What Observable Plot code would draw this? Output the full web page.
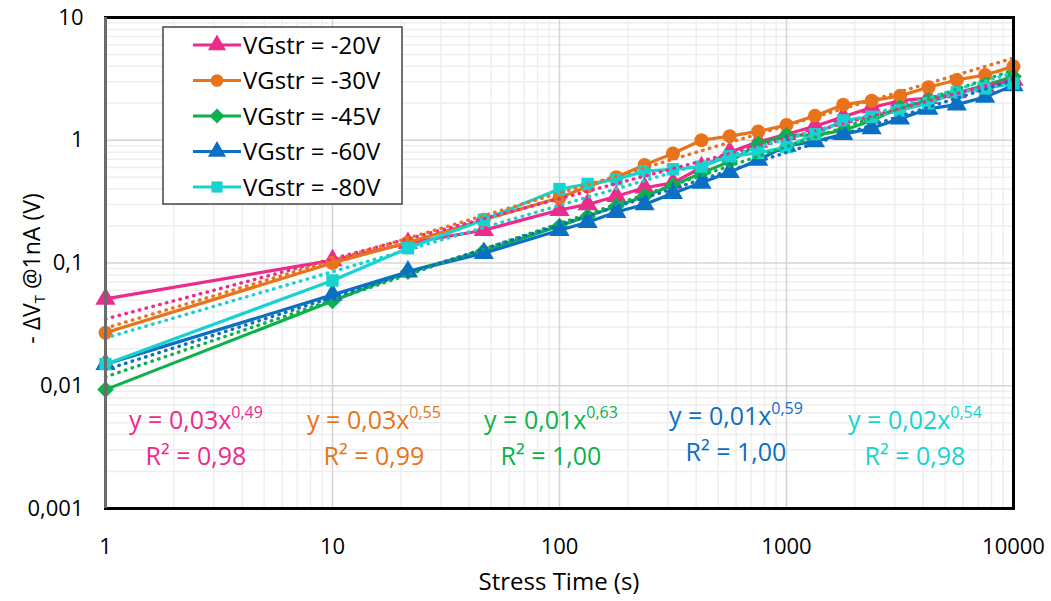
<!DOCTYPE html>
<html>
<head>
<meta charset="utf-8">
<script src="https://cdn.jsdelivr.net/npm/d3@7"></script>
<script src="https://cdn.jsdelivr.net/npm/@observablehq/plot@0.6"></script>
<style>
  body { margin: 0; background: #fff; }
  #chart svg { display: block; font-family: "Open Sans", sans-serif; }
</style>
</head>
<body>
<div id="chart"></div>
<script>
// ---------- data ----------
const stressTimes = [1, 10, 21.5, 46.4, 100, 133, 178, 237, 316, 422, 562, 750, 1000, 1334, 1778, 2371, 3162, 4217, 5623, 7499, 10000];

const seriesNames = ["VGstr = -20V", "VGstr = -30V", "VGstr = -45V", "VGstr = -60V", "VGstr = -80V"];
const seriesColors = ["#EC2B8C", "#E8731A", "#0DB14B", "#0B6FC3", "#17D3D0"];
const seriesSymbols = ["triangle", "circle", "diamond2", "triangle", "square"];
const seriesRadius = [7.5, 7, 7.5, 7.5, 7];

const dv20 = [0.051, 0.105, 0.145, 0.185, 0.27, 0.30, 0.35, 0.41, 0.45, 0.60, 0.80, 0.97, 1.12, 1.3, 1.55, 1.85, 2.1, 2.2, 2.45, 2.75, 3.1];
const dv30 = [0.027, 0.10, 0.147, 0.225, 0.34, 0.42, 0.50, 0.63, 0.78, 1.0, 1.08, 1.18, 1.33, 1.58, 1.95, 2.1, 2.3, 2.7, 3.1, 3.4, 4.0];
const dv45 = [0.0093, 0.049, 0.085, 0.125, 0.20, 0.24, 0.29, 0.35, 0.43, 0.54, 0.67, 0.93, 1.1, 1.1, 1.2, 1.45, 1.85, 2.1, 2.4, 2.8, 3.3];
const dv60 = [0.015, 0.055, 0.085, 0.12, 0.185, 0.215, 0.26, 0.30, 0.37, 0.45, 0.55, 0.69, 0.9, 0.98, 1.12, 1.25, 1.5, 1.8, 1.95, 2.25, 2.8];
const dv80 = [0.015, 0.072, 0.132, 0.225, 0.40, 0.44, 0.48, 0.56, 0.58, 0.61, 0.74, 0.79, 0.88, 1.12, 1.45, 1.55, 1.75, 2.0, 2.45, 2.65, 2.9];
const seriesValues = [dv20, dv30, dv45, dv60, dv80];

// power-law trendline coefficients (y = a * x^b)
const trendA = [0.035, 0.0295, 0.0118, 0.0135, 0.0245];
const trendB = [0.49, 0.55, 0.625, 0.59, 0.54];

// trendline labels
const eqMain = ["y = 0,03x", "y = 0,03x", "y = 0,01x", "y = 0,01x", "y = 0,02x"];
const eqExp = ["0,49", "0,55", "0,63", "0,59", "0,54"];
const r2Text = ["R² = 0,98", "R² = 0,99", "R² = 1,00", "R² = 1,00", "R² = 0,98"];

const xTicks = [1, 10, 100, 1000, 10000];
const yTicks = [0.001, 0.01, 0.1, 1, 10];
const xTitle = "Stress Time (s)";

// ---------- build ----------
const W = 1051, H = 601;
const mL = 105, mR = 38, mT = 17, mB = 93;

const minorX = [];
for (const d of xTicks.slice(0, -1)) for (let k = 2; k <= 9; k++) minorX.push(d * k);
const minorY = [];
for (const d of yTicks.slice(0, -1)) for (let k = 2; k <= 9; k++) minorY.push(d * k);

const marks = [
  Plot.ruleX(minorX, {stroke: "#eeeeee", strokeWidth: 1.5}),
  Plot.ruleY(minorY, {stroke: "#eeeeee", strokeWidth: 1.5}),
  Plot.ruleX(xTicks, {stroke: "#d4d4d4", strokeWidth: 1.5}),
  Plot.ruleY(yTicks, {stroke: "#d4d4d4", strokeWidth: 1.5}),
];

seriesNames.forEach((name, i) => {
  const rows = stressTimes.map((t, j) => ({t, v: seriesValues[i][j]}));
  marks.push(Plot.line(rows, {x: "t", y: "v", stroke: seriesColors[i], strokeWidth: 3.2}));
  marks.push(Plot.dot(rows, {x: "t", y: "v", fill: seriesColors[i], stroke: "none", symbol: seriesSymbols[i], r: seriesRadius[i]}));
});

seriesNames.forEach((name, i) => {
  const x0 = stressTimes[0], x1 = stressTimes[stressTimes.length - 1];
  const tr = [x0, x1].map(t => ({t, v: trendA[i] * Math.pow(t, trendB[i])}));
  marks.push(Plot.line(tr, {x: "t", y: "v", stroke: seriesColors[i], strokeWidth: 3.4,
    strokeDasharray: "0.5 6.5", strokeLinecap: "round"}));
});

marks.push(Plot.frame({stroke: "#000", strokeWidth: 3}));
marks.push(Plot.ruleX([1], {stroke: "#6b6b6b", strokeWidth: 3}));
marks.push(Plot.axisX({ticks: xTicks, tickFormat: d => String(d), tickSize: 0, tickPadding: 30, fontSize: 22, label: null, fill: "#000"}));
marks.push(Plot.axisY({ticks: yTicks, tickFormat: d => String(d).replace(".", ","), tickSize: 0, tickPadding: 22, fontSize: 22, label: null, fill: "#000"}));

const plot = Plot.plot({
  width: W, height: H,
  marginLeft: mL, marginRight: mR, marginTop: mT, marginBottom: mB,
  x: {type: "log", domain: [1, 10000]},
  y: {type: "log", domain: [0.001, 10]},
  style: {fontFamily: "Open Sans, sans-serif", color: "#000", background: "#fff", overflow: "visible"},
  marks
});
document.getElementById("chart").appendChild(plot);

const svg = d3.select(plot);
const xs = plot.scale("x"), ys = plot.scale("y");

// axis titles
svg.append("text")
  .attr("x", (xs.apply(1) + xs.apply(10000)) / 2).attr("y", 590)
  .attr("text-anchor", "middle").attr("font-size", 24).attr("fill", "#000")
  .text(xTitle);

const yl = svg.append("text")
  .attr("transform", `translate(40,${(ys.apply(0.001) + ys.apply(10)) / 2 + 6}) rotate(-90)`)
  .attr("text-anchor", "middle").attr("font-size", 23).attr("fill", "#000");
yl.append("tspan").text("- ΔV");
yl.append("tspan").attr("font-size", 15).attr("dy", 5).text("T");
yl.append("tspan").attr("dy", -5).text(" @1nA (V)");

// trendline labels
const eqCx = [196, 374, 551, 736, 915];
const eqBase = [429, 429, 429, 425, 429];
eqMain.forEach((m, i) => {
  const t = svg.append("text").attr("x", eqCx[i]).attr("y", eqBase[i])
    .attr("text-anchor", "middle").attr("font-size", 25).attr("fill", seriesColors[i]);
  t.append("tspan").text(m);
  t.append("tspan").attr("font-size", 16).attr("dy", -11).text(eqExp[i]);
  svg.append("text").attr("x", eqCx[i]).attr("y", eqBase[i] + 36)
    .attr("text-anchor", "middle").attr("font-size", 25).attr("fill", seriesColors[i])
    .text(r2Text[i]);
});

// legend
const lg = svg.append("g");
lg.append("rect").attr("x", 163).attr("y", 27).attr("width", 239).attr("height", 177)
  .attr("fill", "#fff").attr("stroke", "#444").attr("stroke-width", 1.5);
const symMap = {triangle: d3.symbolTriangle, circle: d3.symbolCircle, diamond2: d3.symbolDiamond2, square: d3.symbolSquare};
seriesNames.forEach((name, i) => {
  const cy = 45 + i * 35.5;
  lg.append("line").attr("x1", 193).attr("x2", 241).attr("y1", cy).attr("y2", cy)
    .attr("stroke", seriesColors[i]).attr("stroke-width", 3.2);
  lg.append("path").attr("transform", `translate(217,${cy})`)
    .attr("d", d3.symbol(symMap[seriesSymbols[i]], Math.PI * (seriesRadius[i] * 0.9) ** 2)())
    .attr("fill", seriesColors[i]);
  lg.append("text").attr("x", 243).attr("y", cy + 8.5).attr("text-anchor", "start")
    .attr("font-size", 24).attr("fill", "#000").text(name);
});
</script>
</body>
</html>
